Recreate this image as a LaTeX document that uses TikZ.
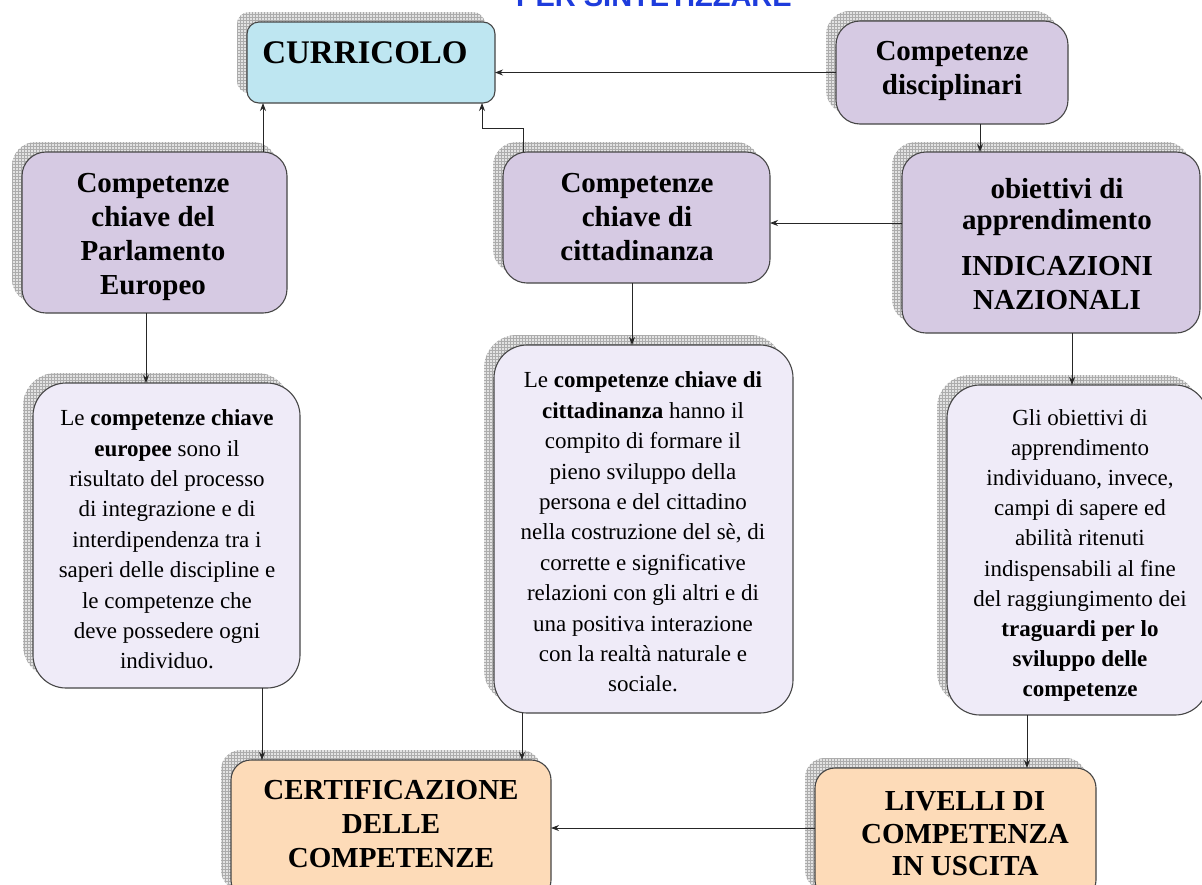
\documentclass[tikz,border=0pt]{standalone}
\usepackage{fontspec}
\setmainfont{Liberation Serif}
\newfontfamily\sansb{Liberation Sans}
\usetikzlibrary{shadows,patterns,arrows.meta}
\definecolor{cyanbox}{RGB}{190,230,241}
\definecolor{lilac}{RGB}{214,202,227}
\definecolor{lavlight}{RGB}{239,235,248}
\definecolor{peach}{RGB}{253,219,184}
\definecolor{edge}{RGB}{70,70,70}
\definecolor{titleblue}{RGB}{30,60,220}
\tikzset{
  shd/.style={
    general shadow={shadow xshift=-10pt, shadow yshift=10pt, draw=none, fill=gray!22},
    general shadow={shadow xshift=-10pt, shadow yshift=10pt, draw=none, pattern=grid, pattern color=gray!65}},
  bx/.style={shd, draw=edge, line width=1.1pt, inner sep=0pt, outer sep=0pt, anchor=north west},
  curbox/.style={bx, fill=cyanbox, rounded corners=12pt},
  titbox/.style={bx, fill=lilac, rounded corners=24pt},
  txtbox/.style={bx, fill=lavlight, rounded corners=33pt},
  outbox/.style={bx, fill=peach, rounded corners=20pt},
  tittxt/.style={font=\bfseries\fontsize{29}{34}\selectfont, align=center, inner sep=0pt},
  bodytxt/.style={font=\fontsize{23}{30.4}\selectfont, align=center, inner sep=0pt},
  arr/.style={draw=black!85, line width=0.9pt, -{Stealth[length=8pt,width=6pt]}},
}
\begin{document}
\begin{tikzpicture}[x=1pt,y=-1pt]
\useasboundingbox (0,0) rectangle (1202,884);
\fill[white] (0,0) rectangle (1202,884);
% title (cut at the top)
\node[anchor=base, font=\sansb\bfseries\fontsize{29}{34}\selectfont, text=titleblue, inner sep=0pt] (ttl) at (654,6) {PER SINTETIZZARE};
% boxes
\node[curbox, minimum width=248pt, minimum height=81pt] (cur) at (247,22) {};
\node[titbox, minimum width=232pt, minimum height=103pt] (disc) at (836,21) {};
\node[titbox, minimum width=265pt, minimum height=161pt] (parl) at (22,152) {};
\node[titbox, minimum width=267pt, minimum height=131pt] (citt) at (503,152) {};
\node[titbox, minimum width=298pt, minimum height=181pt] (obi) at (902,152) {};
\node[txtbox, minimum width=267pt, minimum height=305pt] (ltx) at (33,383) {};
\node[txtbox, minimum width=299pt, minimum height=368pt] (mtx) at (494,345) {};
\node[txtbox, minimum width=261pt, minimum height=330pt] (rtx) at (947,385) {};
\node[outbox, minimum width=320pt, minimum height=140pt] (cert) at (231,760) {};
\node[outbox, minimum width=281pt, minimum height=132pt] (liv) at (815,768) {};
% texts
\node[anchor=base, font=\bfseries\fontsize{33}{38}\selectfont, inner sep=0pt] (curT) at (365,63) {CURRICOLO};
\node[tittxt] (discT) at (952,70.5) {Competenze\\disciplinari};
\node[tittxt] (parlT) at (153,237) {Competenze\\chiave del\\Parlamento\\Europeo};
\node[tittxt] (cittT) at (637,217) {Competenze\\chiave di\\cittadinanza};
\node[tittxt] (obiT) at (1057,244) {obiettivi di\\[-3pt]apprendimento\\[12pt]INDICAZIONI\\NAZIONALI};
\node[bodytxt] (ltxT) at (167,539.5) {Le \textbf{competenze chiave}\\\textbf{europee} sono il\\risultato del processo\\di integrazione e di\\interdipendenza tra i\\saperi delle discipline e\\le competenze che\\deve possedere ogni\\individuo.};
\node[bodytxt] (mtxT) at (643,532) {Le \textbf{competenze chiave di}\\\textbf{cittadinanza} hanno il\\compito di formare il\\pieno sviluppo della\\persona e del cittadino\\nella costruzione del sè, di\\corrette e significative\\relazioni con gli altri e di\\una positiva interazione\\con la realtà naturale e\\sociale.};
\node[bodytxt, font=\fontsize{23}{30.1}\selectfont] (rtxT) at (1080,555.5) {Gli obiettivi di\\apprendimento\\individuano, invece,\\campi di sapere ed\\abilità ritenuti\\indispensabili al fine\\del raggiungimento dei\\\textbf{traguardi per lo}\\\textbf{sviluppo delle}\\\textbf{competenze}};
\node[tittxt] (certT) at (391,824) {CERTIFICAZIONE\\DELLE\\COMPETENZE};
\node[tittxt, font=\bfseries\fontsize{29}{32.5}\selectfont] (livT) at (965,834) {LIVELLI DI\\COMPETENZA\\IN USCITA};
% connector helper coordinates
\coordinate (xparl) at (263,0);
\coordinate (b1) at (523,128);
\coordinate (b2) at (482,128);
\coordinate (xdisc) at (980,0);
\coordinate (yobi) at (0,223);
\coordinate (xlt) at (146,0);
\coordinate (xmt) at (632,0);
\coordinate (xrt) at (1072,0);
\coordinate (xlc) at (262,0);
\coordinate (xmc) at (522,0);
\coordinate (xrl) at (1027,0);
\coordinate (yliv) at (0,828);
% connectors
\draw[arr] (disc.west) -- (disc.west -| cur.east);
\draw[arr] (parl.north -| xparl) -- (cur.south -| xparl);
\draw[arr] (citt.north -| b1) -- (b1) -- (b2) -- (cur.south -| b2);
\draw[arr] (disc.south -| xdisc) -- (obi.north -| xdisc);
\draw[arr] (obi.west |- yobi) -- (citt.east |- yobi);
\draw[arr] (parl.south -| xlt) -- (ltx.north -| xlt);
\draw[arr] (citt.south -| xmt) -- (mtx.north -| xmt);
\draw[arr] (obi.south -| xrt) -- (rtx.north -| xrt);
\draw[arr] (ltx.south -| xlc) -- (cert.north -| xlc);
\draw[arr] (mtx.south -| xmc) -- (cert.north -| xmc);
\draw[arr] (rtx.south -| xrl) -- (liv.north -| xrl);
\draw[arr] (liv.west |- yliv) -- (cert.east |- yliv);
\end{tikzpicture}
\end{document}
